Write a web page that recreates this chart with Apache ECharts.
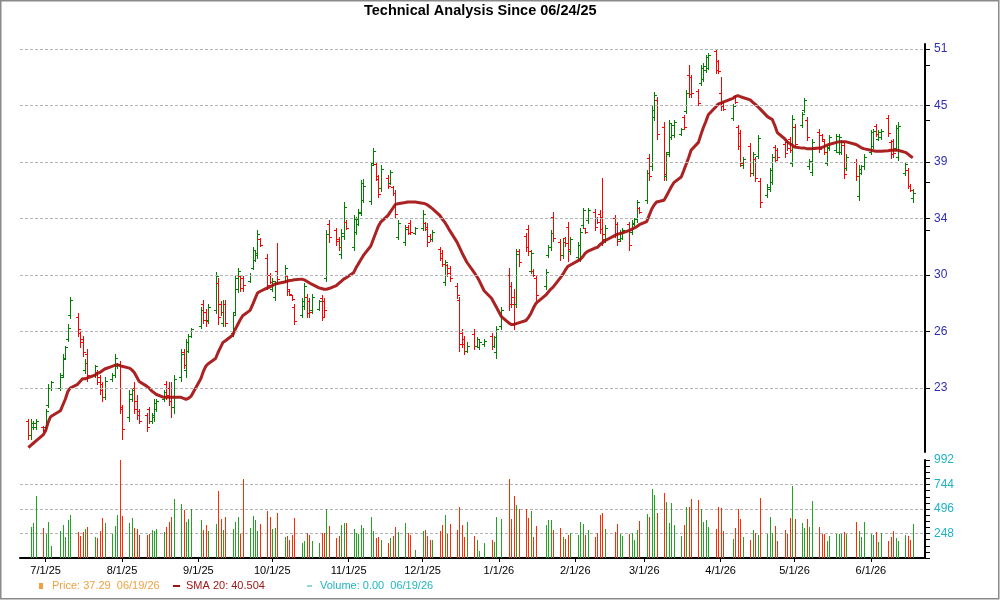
<!DOCTYPE html>
<html>
<head>
<meta charset="utf-8">
<title>Technical Analysis Since 06/24/25</title>
<script src="https://cdn.jsdelivr.net/npm/echarts@6.0.0/dist/echarts.min.js"></script>
<style>
  html, body { margin: 0; padding: 0; background: #fff; }
  #chart { width: 1000px; height: 600px; }
</style>
</head>
<body>
<div id="chart"></div>
<script>
// trading days shown on the chart
const dates = [
  '2025-06-24','2025-06-25','2025-06-26','2025-06-27','2025-06-30',
  '2025-07-01','2025-07-02','2025-07-03','2025-07-07','2025-07-08','2025-07-09','2025-07-10','2025-07-11',
  '2025-07-14','2025-07-15','2025-07-16','2025-07-17','2025-07-18','2025-07-21','2025-07-22','2025-07-23',
  '2025-07-24','2025-07-25','2025-07-28','2025-07-29','2025-07-30','2025-07-31',
  '2025-08-01','2025-08-04','2025-08-05','2025-08-06','2025-08-07','2025-08-08','2025-08-11','2025-08-12',
  '2025-08-13','2025-08-14','2025-08-15','2025-08-18','2025-08-19','2025-08-20','2025-08-21','2025-08-22',
  '2025-08-25','2025-08-26','2025-08-27','2025-08-28','2025-08-29',
  '2025-09-02','2025-09-03','2025-09-04','2025-09-05','2025-09-08','2025-09-09','2025-09-10','2025-09-11',
  '2025-09-12','2025-09-15','2025-09-16','2025-09-17','2025-09-18','2025-09-19','2025-09-22','2025-09-23',
  '2025-09-24','2025-09-25','2025-09-26','2025-09-29','2025-09-30',
  '2025-10-01','2025-10-02','2025-10-03','2025-10-06','2025-10-07','2025-10-08','2025-10-09','2025-10-10',
  '2025-10-13','2025-10-14','2025-10-15','2025-10-16','2025-10-17','2025-10-20','2025-10-21','2025-10-22',
  '2025-10-23','2025-10-24','2025-10-27','2025-10-28','2025-10-29','2025-10-30','2025-10-31',
  '2025-11-03','2025-11-04','2025-11-05','2025-11-06','2025-11-07','2025-11-10','2025-11-11','2025-11-12',
  '2025-11-13','2025-11-14','2025-11-17','2025-11-18','2025-11-19','2025-11-20','2025-11-21','2025-11-24',
  '2025-11-25','2025-11-26','2025-11-28',
  '2025-12-01','2025-12-02','2025-12-03','2025-12-04','2025-12-05','2025-12-08','2025-12-09','2025-12-10',
  '2025-12-11','2025-12-12','2025-12-15','2025-12-16','2025-12-17','2025-12-18','2025-12-19','2025-12-22',
  '2025-12-23','2025-12-24','2025-12-26','2025-12-29','2025-12-30','2025-12-31',
  '2026-01-02','2026-01-05','2026-01-06','2026-01-07','2026-01-08','2026-01-09','2026-01-12','2026-01-13',
  '2026-01-14','2026-01-15','2026-01-16','2026-01-20','2026-01-21','2026-01-22','2026-01-23','2026-01-26',
  '2026-01-27','2026-01-28','2026-01-29','2026-01-30',
  '2026-02-02','2026-02-03','2026-02-04','2026-02-05','2026-02-06','2026-02-09','2026-02-10','2026-02-11',
  '2026-02-12','2026-02-13','2026-02-17','2026-02-18','2026-02-19','2026-02-20','2026-02-23','2026-02-24',
  '2026-02-25','2026-02-26','2026-02-27',
  '2026-03-02','2026-03-03','2026-03-04','2026-03-05','2026-03-06','2026-03-09','2026-03-10','2026-03-11',
  '2026-03-12','2026-03-13','2026-03-16','2026-03-17','2026-03-18','2026-03-19','2026-03-20','2026-03-23',
  '2026-03-24','2026-03-25','2026-03-26','2026-03-27','2026-03-30','2026-03-31',
  '2026-04-01','2026-04-02','2026-04-06','2026-04-07','2026-04-08','2026-04-09','2026-04-10','2026-04-13',
  '2026-04-14','2026-04-15','2026-04-16','2026-04-17','2026-04-20','2026-04-21','2026-04-22','2026-04-23',
  '2026-04-24','2026-04-27','2026-04-28','2026-04-29','2026-04-30',
  '2026-05-01','2026-05-04','2026-05-05','2026-05-06','2026-05-07','2026-05-08','2026-05-11','2026-05-12',
  '2026-05-13','2026-05-14','2026-05-15','2026-05-18','2026-05-19','2026-05-20','2026-05-21','2026-05-22',
  '2026-05-26','2026-05-27','2026-05-28','2026-05-29',
  '2026-06-01','2026-06-02','2026-06-03','2026-06-04','2026-06-05','2026-06-08','2026-06-09','2026-06-10',
  '2026-06-11','2026-06-12','2026-06-15','2026-06-16','2026-06-17','2026-06-18'
];

const opens = [
  21.3, 20.6, 21.0, 21.0, 21.0,
  21.0, 22.1, 23.0, 23.0, 23.7, 24.7, 25.8, 27.3, 27.2, 26.2, 25.8, 24.0, 24.9, 23.7, 23.9, 23.6, 23.2, 22.5, 23.5, 23.7, 24.2, 24.3,
  21.9, 21.5, 22.4, 23.0, 22.3, 21.8, 21.6, 21.9, 21.3, 21.5, 21.9, 22.4, 23.2, 23.0, 23.0, 22.0, 23.6, 25.0, 24.0, 25.1, 26.0,
  26.6, 28.0, 27.5, 27.0, 27.6, 29.4, 28.0, 26.8, 28.0, 26.2, 27.5, 29.0, 29.9, 29.8, 29.6, 30.5, 31.1, 31.4, 32.6, 31.2, 30.0,
  29.0, 28.5, 30.3, 29.6, 29.9, 29.0, 28.6, 27.8, 27.3, 27.9, 28.5, 28.2, 27.6, 27.7, 28.4, 28.2, 29.8, 33.8, 33.3, 32.6, 31.5, 32.9, 34.0,
  32.0, 33.2, 33.8, 34.7, 35.8, 35.7, 39.0, 38.9, 37.6, 36.8, 37.7, 37.2, 36.9, 36.4, 32.8, 32.4, 33.6, 33.9, 33.1,
  33.5, 33.9, 33.6, 32.9, 32.6, 31.9, 31.6, 29.5, 30.7, 30.5, 29.2, 28.3, 26.2, 25.8, 25.1, 26.1, 25.4, 25.3, 25.5, 26.0, 25.4, 25.0,
  26.6, 30.0, 29.2, 28.5, 28.0, 31.7, 32.9, 33.4, 30.3, 30.3, 29.8, 29.2, 31.4, 32.0, 34.4, 32.4, 31.4, 32.7, 33.6, 31.7,
  31.3, 31.2, 33.7, 33.5, 34.1, 34.8, 34.3, 34.6, 34.4, 32.6, 34.3, 33.8, 32.6, 32.7, 33.8, 33.2, 33.8, 34.2, 35.1,
  35.8, 39.5, 38.7, 43.5, 45.2, 42.5, 37.8, 40.0, 41.5, 41.7, 41.8, 43.5, 44.1, 48.0, 47.7, 46.2, 47.1, 47.5, 48.5, 48.8, 50.7, 49.6,
  46.0, 44.9, 43.4, 45.7, 42.5, 41.9, 38.8, 40.6, 38.1, 39.4, 39.7, 37.4, 36.2, 36.7, 37.3, 40.5, 40.2, 40.8, 41.0, 41.3, 39.0,
  42.5, 42.7, 44.2, 43.2, 38.7, 38.2, 42.0, 41.7, 41.1, 39.0, 40.4, 40.2, 40.0, 40.0, 40.7, 38.6, 39.1, 36.1, 38.1, 38.7,
  40.0, 40.6, 42.6, 41.3, 41.5, 43.4, 41.0, 41.1, 40.4, 39.6, 38.1, 38.4, 37.0, 35.9
];

const highs = [
  21.4, 21.4, 21.3, 21.4, 21.05,
  21.9, 23.2, 23.4, 23.8, 24.9, 25.4, 26.7, 28.5, 27.4, 26.3, 26.0, 24.6, 25.2, 24.3, 24.0, 23.7, 23.3, 23.6, 23.8, 24.9, 24.4, 24.5,
  22.1, 22.9, 23.0, 23.3, 22.6, 21.9, 21.7, 22.0, 21.7, 22.4, 22.4, 22.9, 23.4, 23.3, 23.3, 23.7, 25.2, 25.2, 25.8, 26.1, 26.5,
  27.8, 28.3, 27.7, 28.0, 30.2, 29.8, 28.2, 28.3, 28.3, 27.5, 30.0, 30.5, 30.0, 29.9, 30.1, 32.0, 31.8, 33.3, 32.7, 31.5, 30.1,
  29.8, 29.6, 32.3, 30.7, 30.0, 29.0, 28.6, 28.0, 28.4, 29.4, 28.7, 28.4, 28.7, 28.3, 28.6, 28.4, 33.3, 34.1, 33.5, 32.8, 33.4, 35.6, 34.1,
  34.5, 34.4, 35.0, 37.5, 37.6, 39.0, 40.4, 39.1, 37.9, 38.8, 37.9, 38.4, 37.0, 36.6, 34.1, 33.7, 33.7, 34.1, 33.6,
  34.9, 34.0, 33.9, 33.0, 33.3, 32.0, 31.8, 31.1, 30.8, 30.6, 29.4, 28.5, 26.4, 26.0, 25.6, 26.4, 25.9, 25.8, 25.8, 26.2, 26.0, 26.6,
  27.8, 30.5, 29.5, 29.0, 31.9, 31.9, 33.1, 33.7, 31.8, 30.4, 30.0, 30.4, 32.2, 33.3, 34.8, 32.6, 32.6, 32.8, 34.0, 32.8,
  32.4, 33.5, 35.1, 33.5, 35.1, 35.0, 34.4, 34.9, 37.7, 33.7, 34.5, 34.0, 33.3, 33.5, 34.0, 34.1, 34.3, 35.8, 35.2,
  38.4, 39.8, 44.7, 46.1, 45.6, 43.0, 40.0, 43.2, 42.9, 43.2, 42.4, 43.7, 46.3, 49.1, 48.0, 46.4, 49.1, 49.3, 50.3, 50.5, 51.0, 49.7,
  47.7, 45.0, 44.8, 45.8, 42.7, 42.2, 39.6, 40.9, 40.0, 39.6, 41.7, 37.7, 37.1, 38.6, 39.8, 40.7, 40.4, 41.0, 41.2, 41.5, 43.7,
  42.8, 44.0, 45.4, 43.5, 39.4, 41.3, 42.3, 41.8, 41.3, 40.7, 41.7, 41.8, 41.8, 41.2, 41.0, 39.8, 39.4, 38.8, 38.8, 39.8,
  42.2, 42.3, 42.8, 42.2, 42.3, 43.7, 41.2, 41.3, 42.7, 43.0, 39.1, 38.6, 37.1, 36.7
];

const lows = [
  20.4, 20.4, 20.9, 20.9, 20.8,
  20.9, 22.0, 22.9, 22.9, 23.6, 24.6, 25.7, 27.1, 26.0, 25.3, 24.8, 23.8, 23.4, 23.6, 23.2, 22.7, 22.3, 22.4, 23.4, 23.6, 24.1, 21.7,
  20.4, 21.3, 22.3, 21.7, 21.4, 21.2, 20.8, 21.2, 21.2, 21.3, 21.8, 22.3, 22.4, 22.1, 21.5, 21.7, 23.4, 24.1, 23.6, 25.0, 25.9,
  26.5, 26.8, 26.6, 26.8, 27.4, 26.7, 27.3, 26.6, 26.6, 26.0, 27.3, 28.8, 28.9, 28.9, 29.5, 30.4, 31.0, 31.2, 32.1, 29.0, 29.4,
  28.9, 28.3, 29.5, 29.5, 28.6, 28.6, 28.3, 26.7, 27.2, 27.7, 27.2, 27.2, 27.4, 27.6, 27.0, 27.2, 29.6, 32.4, 32.2, 31.8, 31.2, 32.6, 33.4,
  31.8, 33.0, 33.7, 34.5, 35.6, 35.4, 38.9, 37.5, 36.0, 36.5, 36.8, 37.1, 36.2, 34.3, 32.6, 32.2, 33.0, 33.0, 33.0,
  33.3, 33.3, 32.1, 32.5, 32.5, 31.1, 30.6, 29.3, 29.9, 29.6, 28.4, 25.1, 25.3, 24.9, 25.0, 25.2, 25.3, 25.2, 25.4, 25.2, 25.3, 24.7,
  26.4, 27.6, 27.8, 26.4, 27.8, 30.6, 31.7, 31.4, 30.1, 29.9, 28.3, 29.0, 31.3, 31.8, 32.5, 31.1, 31.2, 32.1, 31.0, 31.5,
  31.1, 31.0, 33.5, 33.1, 33.9, 33.3, 33.9, 33.1, 32.2, 32.4, 32.8, 32.2, 32.5, 32.6, 31.8, 33.0, 33.7, 34.0, 34.7,
  35.5, 37.5, 38.4, 43.2, 41.3, 37.5, 37.5, 39.7, 41.3, 41.5, 41.7, 42.3, 43.9, 45.6, 45.6, 44.7, 46.9, 47.3, 48.3, 48.6, 48.2, 48.2,
  44.2, 44.2, 43.2, 44.9, 40.3, 38.7, 38.6, 37.8, 37.9, 37.4, 39.5, 35.2, 36.0, 36.5, 37.1, 39.1, 39.4, 39.6, 40.2, 40.0, 38.7,
  40.5, 42.5, 44.0, 41.2, 38.5, 37.9, 40.0, 41.2, 39.8, 38.8, 40.2, 40.0, 39.8, 39.8, 37.7, 38.4, 37.5, 35.8, 38.0, 38.5,
  39.8, 40.4, 41.6, 41.2, 41.3, 41.6, 39.5, 39.6, 40.2, 39.3, 37.9, 36.8, 36.5, 35.6
];

const closes = [
  20.6, 21.2, 21.2, 21.3, 20.85,
  21.8, 23.0, 23.3, 23.6, 24.6, 25.3, 26.5, 28.3, 26.4, 25.6, 25.0, 24.4, 23.7, 24.2, 23.3, 22.9, 22.5, 23.4, 23.7, 24.7, 24.35, 22.0,
  20.9, 22.7, 22.9, 21.9, 21.6, 21.3, 21.0, 21.3, 21.6, 22.2, 22.3, 22.8, 22.6, 22.3, 22.0, 23.5, 24.9, 24.3, 25.6, 26.0, 26.4,
  27.6, 27.0, 26.9, 27.8, 29.9, 27.2, 27.5, 28.0, 26.8, 27.3, 29.8, 30.3, 29.1, 29.3, 30.0, 31.8, 31.6, 33.0, 32.2, 29.3, 29.5,
  29.6, 29.4, 29.7, 30.5, 28.9, 28.7, 28.35, 26.9, 28.2, 29.2, 27.4, 27.5, 28.5, 28.2, 27.2, 27.6, 33.0, 32.8, 32.5, 32.0, 33.1, 35.2, 33.5,
  34.2, 34.2, 34.8, 37.2, 37.0, 38.8, 40.1, 37.8, 36.3, 38.5, 37.0, 38.2, 36.4, 34.6, 33.9, 33.4, 33.1, 33.2, 33.5,
  34.6, 33.4, 32.4, 32.6, 33.2, 31.2, 30.8, 30.9, 30.1, 29.8, 28.6, 25.5, 25.5, 25.1, 25.4, 25.4, 25.8, 25.6, 25.7, 25.4, 25.9, 26.4,
  27.6, 28.0, 28.0, 26.7, 31.5, 30.9, 32.0, 31.7, 31.6, 30.0, 28.6, 30.2, 32.0, 33.1, 32.7, 31.4, 32.4, 32.3, 31.9, 32.6,
  32.2, 33.2, 34.9, 33.2, 34.9, 33.6, 34.0, 33.4, 33.0, 33.5, 33.0, 32.5, 33.2, 33.3, 32.2, 33.9, 34.2, 35.6, 34.8,
  38.1, 37.8, 44.2, 45.8, 41.8, 38.0, 39.8, 42.9, 42.7, 43.0, 42.3, 42.5, 46.0, 45.9, 46.0, 44.9, 48.8, 49.0, 50.0, 50.3, 48.5, 48.4,
  44.6, 44.3, 44.6, 45.0, 40.6, 39.0, 39.4, 38.1, 39.8, 37.7, 41.4, 35.6, 36.9, 38.4, 39.6, 39.3, 39.6, 39.9, 40.4, 40.2, 43.3,
  40.8, 43.8, 45.2, 41.5, 39.2, 41.0, 40.3, 41.3, 40.0, 40.5, 41.5, 41.6, 41.5, 41.0, 38.0, 39.6, 37.8, 38.5, 38.7, 39.6,
  42.0, 42.1, 41.8, 42.0, 42.1, 41.9, 39.8, 39.9, 42.4, 42.6, 38.9, 37.0, 36.6, 36.4
];

const volumes = [
  0, 310, 351, 627, 300,
  240, 361, 121, 273, 331, 209, 385, 432, 260, 219, 260, 290, 310, 209, 199, 273, 401, 351, 240, 320, 432, 992,
  422, 351, 401, 300, 290, 229, 229, 240, 280, 270, 290, 260, 310, 361, 411, 594, 543, 482, 361, 391, 492,
  381, 280, 331, 270, 341, 675, 391, 280, 411, 290, 361, 411, 240, 796, 300, 422, 381, 270, 341, 472, 411,
  290, 300, 452, 209, 219, 179, 229, 401, 148, 169, 250, 229, 169, 148, 250, 250, 492, 320, 199, 219, 331, 351, 351,
  290, 250, 240, 331, 300, 411, 270, 199, 209, 179, 148, 199, 219, 310, 260, 351, 250, 229, 81,
  270, 280, 219, 179, 179, 270, 331, 432, 240, 341, 280, 513, 331, 209, 361, 219, 179, 67, 148, 179, 159, 411,
  391, 796, 391, 624, 533, 492, 492, 401, 472, 209, 320, 331, 381, 381, 280, 300, 209, 189, 229, 250,
  229, 361, 341, 229, 280, 209, 250, 432, 452, 290, 260, 341, 240, 219, 240, 250, 179, 280, 371,
  442, 411, 695, 634, 452, 654, 563, 351, 553, 331, 219, 331, 513, 513, 594, 584, 492, 361, 381, 310, 290, 513,
  503, 270, 189, 300, 492, 391, 209, 179, 280, 250, 229, 604, 240, 411, 250, 320, 169, 280, 240, 401, 729,
  391, 351, 300, 391, 310, 573, 310, 240, 240, 169, 219, 240, 240, 240, 260, 240, 361, 270, 209, 361,
  240, 229, 260, 159, 250, 169, 209, 270, 199, 169, 229, 219, 179, 341
];

const sma20 = [
  20.0, 20.1, 20.2, 20.3, 20.6,
  20.8, 21.2, 21.5, 21.8, 22.1, 22.4, 22.8, 23.0, 23.2, 23.35, 23.5, 23.5, 23.55, 23.7, 23.8, 23.85, 23.95, 24.05, 24.2, 24.25, 24.3, 24.25,
  24.2, 24.1, 24.0, 23.85, 23.6, 23.35, 23.1, 23.0, 22.85, 22.75, 22.65, 22.5, 22.5, 22.5, 22.5, 22.5, 22.5, 22.45, 22.4, 22.45, 22.55,
  23.5, 23.9, 24.2, 24.35, 24.65, 25.0, 25.3, 25.6, 25.7, 26.05, 26.4, 26.7, 27.0, 27.25, 27.6, 27.95, 28.35, 28.75, 28.85, 29.1, 29.15,
  29.25, 29.35, 29.4, 29.5, 29.55, 29.6, 29.62, 29.65, 29.7, 29.65, 29.55, 29.45, 29.35, 29.1, 29.05, 29.0, 29.0, 29.05, 29.25, 29.4, 29.55, 29.7, 29.8,
  30.15, 30.5, 30.8, 31.1, 31.4, 32.1, 32.6, 33.1, 33.6, 33.95, 34.5, 34.8, 35.1, 35.4, 35.45, 35.55, 35.6, 35.6, 35.6,
  35.5, 35.45, 35.35, 35.2, 35.05, 34.5, 34.2, 33.95, 33.65, 33.3, 32.4, 32.0, 31.6, 31.25, 30.9, 30.15, 29.9, 29.6, 28.9, 28.4, 28.1, 27.8,
  27.2, 26.8, 26.7, 26.7, 26.75, 26.8, 26.95, 27.15, 27.4, 27.75, 28.05, 28.6, 28.8, 29.0, 29.15, 29.8, 30.05, 30.35, 30.6, 30.7,
  31.0, 31.1, 31.3, 31.55, 31.7, 31.95, 32.0, 32.2, 32.35, 32.5, 32.9, 33.0, 33.05, 33.1, 33.3, 33.4, 33.5, 33.6, 33.75,
  34.0, 34.5, 35.0, 35.35, 35.6, 35.75, 36.1, 36.5, 36.9, 37.25, 37.75, 38.3, 38.9, 39.5, 40.2, 40.95, 41.7, 42.4, 43.0, 43.7, 44.5, 44.8,
  44.9, 45.0, 45.4, 45.6, 45.7, 45.6, 45.5, 45.25, 45.0, 44.8, 44.55, 44.3, 43.5, 43.35, 43.2, 42.6, 41.9, 41.3, 41.0, 40.85, 40.7,
  40.5, 40.4, 40.4, 40.35, 40.35, 40.35, 40.4, 40.45, 40.55, 40.65, 40.75, 40.95, 41.0, 41.0, 41.0, 41.0, 40.75, 40.6, 40.45, 40.35,
  40.2, 40.15, 40.1, 40.1, 40.1, 40.15, 40.2, 40.2, 40.2, 40.2, 40.0, 39.85, 39.65, 39.5
];

// axis ticks
const priceTicks = [23, 26, 30, 34, 39, 45, 51];
const priceMinorTicks = [33.3, 37.3, 43.1, 49.1];
const volumeTicks = [0, 248, 496, 744, 992];
const monthTicks = ['2025-07-01','2025-08-01','2025-09-01','2025-10-01','2025-11-01','2025-12-01',
                    '2026-01-01','2026-02-01','2026-03-01','2026-04-01','2026-05-01','2026-06-01'];

// the price panel is logarithmic: each labelled tick is one step of PRICE_STEP above the last
const PRICE_BASE = 23;
const PRICE_STEP = 1.1419;
const toU = p => Math.log(p / PRICE_BASE) / Math.log(PRICE_STEP);

const UP = '#008000', DOWN = '#ff0000';
const VOL_UP = '#23a323', VOL_DOWN = '#ff2a00';
const FONT = 'Liberation Sans, Arial, sans-serif';

const ts = s => { const [y, m, d] = s.split('-').map(Number); return new Date(y, m - 1, d).getTime(); };
const times = dates.map(ts);
const X_MIN = new Date(2025, 5, 20, 14, 40).getTime();
const X_MAX = new Date(2026, 5, 22, 23, 0).getTime();

const fmtDate = v => { const d = new Date(v); return (d.getMonth() + 1) + '/' + d.getDate() + '/' + String(d.getFullYear()).slice(2); };

const ohlcData = times.map((t, i) => [t, toU(opens[i]), toU(highs[i]), toU(lows[i]), toU(closes[i])]);
const volData = times.map((t, i) => [t, volumes[i]]);
const smaData = times.map((t, i) => [t, toU(sma20[i])]);

const renderOhlc = (params, api) => {
  const t = api.value(0);
  const o = api.coord([t, api.value(1)]);
  const h = api.coord([t, api.value(2)]);
  const l = api.coord([t, api.value(3)]);
  const c = api.coord([t, api.value(4)]);
  const x = Math.round(o[0]) + 0.5;
  const st = { stroke: api.value(4) >= api.value(1) ? UP : DOWN, lineWidth: 1 };
  const yo = Math.round(o[1]) + 0.5, yc = Math.round(c[1]) + 0.5;
  return {
    type: 'group',
    children: [
      { type: 'line', shape: { x1: x, y1: Math.round(h[1]), x2: x, y2: Math.round(l[1]) + 1 }, style: st },
      { type: 'line', shape: { x1: x - 2.5, y1: yo, x2: x, y2: yo }, style: st },
      { type: 'line', shape: { x1: x, y1: yc, x2: x + 2.5, y2: yc }, style: st }
    ]
  };
};

const renderVolume = (params, api) => {
  const t = api.value(0), v = api.value(1);
  if (!v) return null;
  const top = api.coord([t, v]);
  const base = api.coord([t, 0]);
  const x = Math.round(top[0]) + 0.5;
  const i = params.dataIndex;
  return {
    type: 'line',
    shape: { x1: x, y1: base[1], x2: x, y2: Math.round(top[1]) },
    style: { stroke: closes[i] >= opens[i] ? VOL_UP : VOL_DOWN, lineWidth: 1 }
  };
};

const gridLineStyle = { color: '#b4b4b4', type: [3, 2], width: 1 };

const chart = echarts.init(document.getElementById('chart'), null, { renderer: 'canvas' });
chart.setOption({
  animation: false,
  backgroundColor: '#fff',
  title: {
    text: 'Technical Analysis Since 06/24/25',
    left: 364, top: 3, padding: 0,
    textStyle: { fontSize: 14.5, fontWeight: 'bold', color: '#000', fontFamily: FONT }
  },
  grid: [
    { left: 20, right: 75, top: 44, height: 408, outerBoundsMode: 'none' },
    { left: 20, right: 75, top: 460, height: 98, outerBoundsMode: 'none' }
  ],
  xAxis: [
    { type: 'value', gridIndex: 0, min: X_MIN, max: X_MAX, show: false, splitLine: { show: false } },
    {
      type: 'value', gridIndex: 1, min: X_MIN, max: X_MAX,
      axisLine: { show: true, onZero: false, lineStyle: { color: '#000', width: 2 } },
      axisTick: { show: true, customValues: monthTicks.map(ts), length: 4, lineStyle: { color: '#000' } },
      axisLabel: {
        customValues: monthTicks.map(ts), formatter: fmtDate, margin: 7,
        color: '#000', fontSize: 11, fontFamily: FONT
      },
      splitLine: { show: false }
    }
  ],
  yAxis: [
    {
      type: 'value', gridIndex: 0, position: 'right',
      min: -1.133, max: 6.088,
      axisLine: { show: true, lineStyle: { color: '#000', width: 2 } },
      axisTick: {
        show: true, length: 5, lineStyle: { color: '#000' },
        customValues: priceTicks.map((p, i) => i).concat(priceMinorTicks.map(toU))
      },
      axisLabel: {
        customValues: priceTicks.map((p, i) => i),
        formatter: v => String(priceTicks[Math.round(v)]),
        color: '#2d2db8', fontSize: 12, fontFamily: FONT, margin: 9
      },
      splitLine: { show: false }
    },
    {
      type: 'value', gridIndex: 1, position: 'right',
      min: volumeTicks[0], max: volumeTicks[volumeTicks.length - 1], interval: volumeTicks[1],
      axisLine: { show: true, lineStyle: { color: '#000', width: 2 } },
      axisTick: { show: true, length: 5, lineStyle: { color: '#000' } },
      minorTick: { show: true, splitNumber: 4, length: 5, lineStyle: { color: '#000' } },
      axisLabel: { showMinLabel: false, color: '#1fb2c6', fontSize: 12, fontFamily: FONT, margin: 9 },
      splitLine: { show: true, showMinLine: false, showMaxLine: false, lineStyle: gridLineStyle }
    }
  ],
  series: [
    {
      // price gridlines, one per labelled tick
      type: 'line', xAxisIndex: 0, yAxisIndex: 0, data: [], z: 1, silent: true,
      markLine: {
        silent: true, symbol: ['none', 'none'], label: { show: false },
        lineStyle: gridLineStyle,
        data: priceTicks.map((p, i) => ({ yAxis: i }))
      }
    },
    {
      name: 'Price', type: 'custom', xAxisIndex: 0, yAxisIndex: 0, z: 3,
      renderItem: renderOhlc, encode: { x: 0, y: [1, 2, 3, 4] }, data: ohlcData, silent: true
    },
    {
      name: 'SMA 20', type: 'line', xAxisIndex: 0, yAxisIndex: 0, z: 4,
      data: smaData, showSymbol: false, smooth: false, silent: true,
      lineStyle: { color: '#a30f0f', width: 3, opacity: 0.92 }
    },
    {
      name: 'Volume', type: 'custom', xAxisIndex: 1, yAxisIndex: 1, z: 3,
      renderItem: renderVolume, encode: { x: 0, y: 1 }, data: volData, silent: true
    }
  ],
  graphic: [
    { type: 'rect', shape: { x: 0.75, y: 0.75, width: 998, height: 598 }, style: { fill: 'none', stroke: '#8a8a8a', lineWidth: 1.5 }, silent: true },
    { type: 'rect', shape: { x: 39, y: 583, width: 4, height: 6 }, style: { fill: '#f2a03c' } },
    { type: 'text', x: 52, y: 586, style: { text: 'Price: 37.29  06/19/26', fill: '#f0a040', font: '11px ' + FONT, verticalAlign: 'middle' } },
    { type: 'line', shape: { x1: 173, y1: 586, x2: 180, y2: 586 }, style: { stroke: '#a01010', lineWidth: 2 } },
    { type: 'text', x: 186, y: 586, style: { text: 'SMA 20: 40.504', fill: '#a01818', font: '11px ' + FONT, verticalAlign: 'middle' } },
    { type: 'line', shape: { x1: 307, y1: 586, x2: 312, y2: 586 }, style: { stroke: '#20b0c0', lineWidth: 1 } },
    { type: 'text', x: 320, y: 586, style: { text: 'Volume: 0.00  06/19/26', fill: '#20b4c4', font: '11px ' + FONT, verticalAlign: 'middle' } }
  ]
});
window.addEventListener('resize', () => chart.resize());
</script>
</body>
</html>
